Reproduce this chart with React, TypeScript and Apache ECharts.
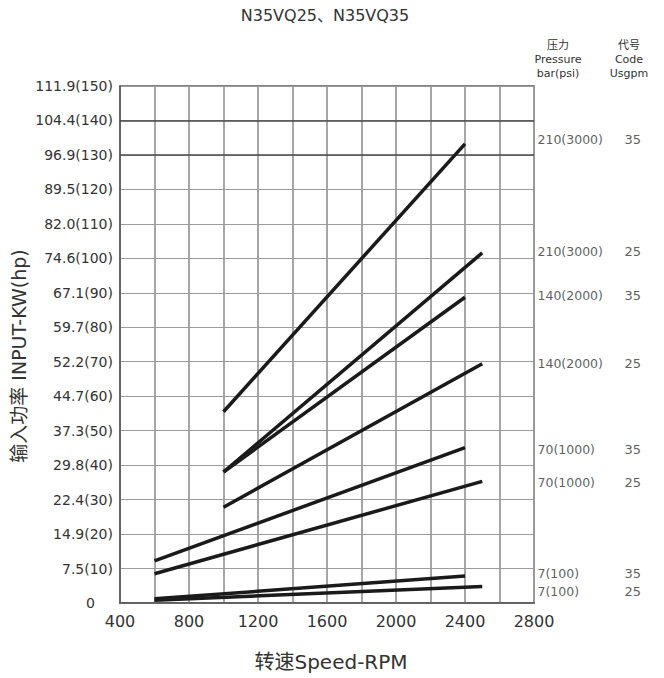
import React, { useEffect, useRef } from "react";
import * as echarts from "echarts";

// ---- data ----
const xTicksShown = [400, 800, 1200, 1600, 2000, 2400, 2800];
const yTickLabels = [
  "0", "7.5(10)", "14.9(20)", "22.4(30)", "29.8(40)", "37.3(50)", "44.7(60)",
  "52.2(70)", "59.7(80)", "67.1(90)", "74.6(100)", "82.0(110)", "89.5(120)",
  "96.9(130)", "104.4(140)", "111.9(150)",
];

// each line: [rpm, hp]
const line210_35 = [[1000, 55.5], [2400, 133.2]];
const line210_25 = [[1000, 38.0], [2500, 101.6]];
const line140_35 = [[1000, 38.0], [2400, 88.7]];
const line140_25 = [[1000, 27.8], [2500, 69.4]];
const line70_35 = [[600, 12.2], [2400, 45.1]];
const line70_25 = [[600, 8.5], [2500, 35.3]];
const line7_35 = [[600, 1.2], [2400, 7.8]];
const line7_25 = [[600, 0.8], [2500, 4.8]];

const pressureLabels = ["210(3000)", "210(3000)", "140(2000)", "140(2000)", "70(1000)", "70(1000)", "7(100)", "7(100)"];
const codeLabels = ["35", "25", "35", "25", "35", "25", "35", "25"];
const labelLevels = [134.4, 102, 89.2, 69.6, 44.6, 34.9, 8.65, 3.3];

const FONT = "'DejaVu Sans', 'Noto Sans CJK SC', sans-serif";
const TXT = "#333";

export default function App() {
  const ref = useRef<HTMLDivElement>(null);
  useEffect(() => {
    if (!ref.current) return;
    const chart = echarts.init(ref.current, undefined, { renderer: "svg" });
    const lines = [line210_35, line210_25, line140_35, line140_25, line70_35, line70_25, line7_35, line7_25];
    const lineSeries = lines.map((d, i) => ({
      type: "line",
      data: d,
      symbol: "none",
      lineStyle: { color: "#1a1a1a", width: 3.5 },
      z: 5,
      ...(i === 0
        ? {
            markLine: {
              silent: true,
              symbol: "none",
              label: { show: false },
              lineStyle: { color: "#4a4a4a", width: 1.6, type: "solid" },
              data: [{ yAxis: 140 }, { yAxis: 130 }],
            },
          }
        : {}),
    }));
    chart.setOption({
      animation: false,
      textStyle: { fontFamily: FONT },
      grid: {
        left: 120,
        right: 130,
        top: 86,
        bottom: 75,
        show: true,
        borderColor: "#555",
        borderWidth: 1.5,
      },
      xAxis: {
        type: "value",
        min: 400,
        max: 2800,
        interval: 200,
        axisLine: { show: true, lineStyle: { color: "#555", width: 1.5 } },
        axisTick: { show: false },
        axisLabel: {
          color: TXT,
          fontSize: 16,
          fontFamily: FONT,
          margin: 10,
          formatter: (v: number) => (xTicksShown.includes(v) ? String(v) : ""),
        },
        splitLine: { show: true, lineStyle: { color: "#9c9c9c", width: 1.8 } },
      },
      yAxis: {
        type: "value",
        min: 0,
        max: 150,
        interval: 10,
        axisLine: { show: true, lineStyle: { color: "#555", width: 1.5 } },
        axisTick: { show: false },
        axisLabel: {
          color: TXT,
          fontSize: 14,
          fontFamily: FONT,
          margin: 7,
          formatter: (v: number) => {
            const t = yTickLabels[Math.round(v / 10)];
            return v === 0 ? "{z|" + t + "}" : t;
          },
          rich: { z: { fontSize: 14, color: TXT, padding: [0, 18, 0, 0], fontFamily: FONT } },
        },
        splitLine: { show: true, lineStyle: { color: "#9c9c9c", width: 1.2 } },
      },
      series: [
        ...lineSeries,
        {
          type: "scatter",
          data: labelLevels.map((v) => [2800, v]),
          symbolSize: 1,
          clip: false,
          itemStyle: { color: "transparent" },
          silent: true,
          label: {
            show: true,
            position: "right",
            distance: 3,
            formatter: (p: any) => "{a|" + pressureLabels[p.dataIndex] + "}{b|" + codeLabels[p.dataIndex] + "}",
            rich: {
              a: { width: 87, fontSize: 12.5, color: TXT, fontFamily: FONT },
              b: { fontSize: 13, color: TXT, fontFamily: FONT },
            },
          },
        },
      ],
      graphic: [
        { type: "text", x: 325, y: 15, style: { text: "N35VQ25、N35VQ35", font: "16px " + FONT, fill: TXT, textAlign: "center", textVerticalAlign: "middle" } },
        { type: "text", x: 331, y: 662, style: { text: "转速Speed-RPM", font: "20px " + FONT, fill: TXT, textAlign: "center", textVerticalAlign: "middle" } },
        { type: "text", x: 19, y: 356, rotation: Math.PI / 2, style: { text: "输入功率 INPUT-KW(hp)", font: "19px " + FONT, fill: TXT, textAlign: "center", textVerticalAlign: "middle" } },
        { type: "text", x: 558, y: 45, style: { text: "压力", font: "11px " + FONT, fill: TXT, textAlign: "center", textVerticalAlign: "middle" } },
        { type: "text", x: 558, y: 59, style: { text: "Pressure", font: "11px " + FONT, fill: TXT, textAlign: "center", textVerticalAlign: "middle" } },
        { type: "text", x: 558, y: 73, style: { text: "bar(psi)", font: "11px " + FONT, fill: TXT, textAlign: "center", textVerticalAlign: "middle" } },
        { type: "text", x: 629, y: 45, style: { text: "代号", font: "11px " + FONT, fill: TXT, textAlign: "center", textVerticalAlign: "middle" } },
        { type: "text", x: 629, y: 59, style: { text: "Code", font: "11px " + FONT, fill: TXT, textAlign: "center", textVerticalAlign: "middle" } },
        { type: "text", x: 629, y: 73, style: { text: "Usgpm", font: "11px " + FONT, fill: TXT, textAlign: "center", textVerticalAlign: "middle" } },
      ],
    });
    return () => chart.dispose();
  }, []);
  return (
    <div
      ref={ref}
      style={{ position: "fixed", left: 0, top: 0, width: 664, height: 678, background: "#fff" }}
    />
  );
}
